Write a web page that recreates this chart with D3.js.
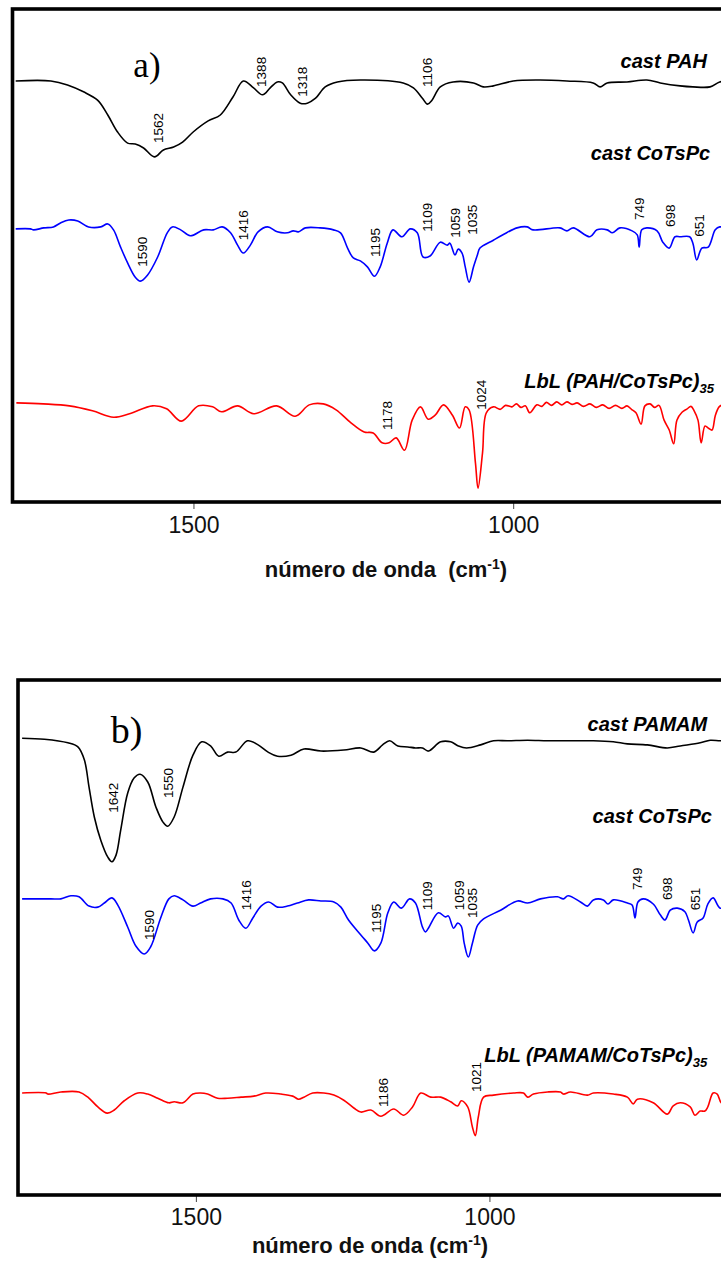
<!DOCTYPE html>
<html>
<head>
<meta charset="utf-8">
<script src="https://cdn.jsdelivr.net/npm/d3@7"></script>
<style>
  html, body { margin: 0; padding: 0; background: #fff; }
  svg { display: block; }
</style>
</head>
<body>
<div id="chart"></div>
<script>
// ---------------- DATA (wavenumber in cm-1, offset transmittance in arbitrary units 0-100) ----------------
const xTicks = [1500, 1000];
const axisTitle = "número de onda";

// Panel a)
const aCastPAH = [[1778,85.4],[1723,85.4],[1697,84.6],[1672,83.2],[1650,81.5],[1634,78.5],[1619,75.1],[1603,72.8],[1591,72.6],[1578,71.8],[1561,70.0],[1547,71.4],[1531,72.0],[1517,73.0],[1500,75.1],[1477,77.3],[1458,78.5],[1438,82.2],[1422,85.4],[1406,84.0],[1392,82.6],[1380,84.0],[1369,85.2],[1361,85.0],[1348,82.6],[1333,80.9],[1322,80.9],[1309,81.9],[1294,84.2],[1275,85.2],[1239,85.6],[1172,85.0],[1156,84.0],[1142,81.9],[1134,80.7],[1127,81.5],[1114,84.2],[1094,85.2],[1062,85.0],[1047,84.2],[1031,84.4],[1000,85.4],[958,85.6],[916,85.4],[875,85.0],[864,84.2],[853,85.0],[822,85.2],[791,85.6],[770,85.0],[739,84.4],[719,84.2],[692,84.2],[677,85.2],[653,85.6]];

const aCastCoTsPc = [[1778,55.4],[1755,55.4],[1750,55.2],[1734,55.6],[1719,55.8],[1708,56.6],[1695,57.2],[1681,57.0],[1664,55.8],[1645,55.8],[1634,56.4],[1625,55.2],[1614,51.7],[1603,48.5],[1591,45.6],[1583,44.8],[1572,46.0],[1556,49.7],[1541,54.6],[1533,55.8],[1520,55.2],[1505,54.0],[1484,55.2],[1469,55.2],[1455,55.8],[1442,54.6],[1431,52.1],[1422,50.5],[1411,52.1],[1399,54.8],[1384,55.8],[1369,54.8],[1353,54.6],[1344,55.0],[1336,54.8],[1325,55.6],[1302,55.6],[1281,55.2],[1270,54.6],[1259,51.5],[1250,49.5],[1239,48.9],[1228,47.7],[1217,45.8],[1208,47.7],[1197,52.5],[1188,55.2],[1174,53.8],[1161,55.4],[1150,54.6],[1141,49.7],[1130,49.9],[1114,52.7],[1103,52.1],[1099,52.5],[1091,50.1],[1086,51.3],[1080,50.5],[1075,47.7],[1069,44.6],[1062,47.7],[1056,50.1],[1052,51.5],[1031,53.1],[1016,54.2],[994,55.6],[978,55.8],[969,55.2],[927,55.6],[916,55.0],[906,55.6],[880,53.8],[869,55.2],[853,55.2],[845,54.6],[833,55.6],[814,55.0],[806,54.2],[803,51.7],[799,55.2],[791,55.6],[775,55.0],[766,52.7],[756,51.5],[747,53.8],[739,53.8],[724,53.8],[719,52.5],[713,49.1],[705,51.5],[695,51.7],[684,55.2],[677,55.8],[661,55.2]];

const aLbL = [[1777,20.1],[1735,19.9],[1694,19.5],[1658,18.5],[1625,17.2],[1600,17.9],[1564,19.5],[1542,18.9],[1519,16.4],[1492,19.5],[1470,19.3],[1456,18.3],[1431,19.5],[1406,17.9],[1370,19.5],[1341,17.4],[1319,19.7],[1297,19.9],[1277,18.7],[1255,16.2],[1233,14.2],[1219,14.0],[1205,12.0],[1194,12.0],[1183,13.0],[1170,10.5],[1158,16.6],[1145,19.3],[1133,16.8],[1122,17.6],[1109,19.7],[1095,17.6],[1084,15.0],[1075,19.3],[1069,18.7],[1059,7.9],[1055,2.8],[1048,9.9],[1042,18.1],[1031,19.3],[1020,18.8],[1012,19.6],[1002,19.3],[995,19.9],[988,19.2],[981,19.5],[974,18.1],[963,19.7],[955,19.4],[948,20.2],[940,19.6],[932,20.3],[924,19.7],[916,20.3],[908,19.8],[900,20.1],[890,19.4],[880,19.9],[870,19.2],[860,19.7],[850,19.0],[840,19.6],[830,19.0],[822,19.5],[815,18.8],[808,18.1],[800,15.8],[794,19.5],[786,19.9],[779,19.2],[772,19.6],[764,16.6],[756,14.6],[749,11.8],[744,16.6],[736,18.2],[728,18.9],[722,19.4],[717,18.5],[711,16.6],[706,12.0],[700,15.4],[694,14.9],[689,14.6],[684,17.5],[678,19.3],[672,19.7],[653,19.5]];

// Panel b)
const bCastPAMAM = [[1796,88.7],[1758,88.5],[1718,87.8],[1701,87.0],[1690,84.5],[1682,79.2],[1673,73.4],[1662,68.9],[1650,65.6],[1643,64.7],[1636,66.0],[1628,70.9],[1616,78.1],[1605,81.0],[1595,81.7],[1582,80.2],[1568,75.3],[1556,72.4],[1548,71.6],[1537,73.4],[1522,79.2],[1505,85.4],[1490,88.0],[1475,87.2],[1461,85.2],[1446,86.0],[1432,86.0],[1412,88.2],[1394,87.4],[1377,86.0],[1361,85.2],[1338,85.4],[1316,86.6],[1287,86.2],[1248,86.4],[1219,86.8],[1197,86.0],[1182,87.4],[1170,88.2],[1156,87.2],[1139,87.0],[1126,86.8],[1114,86.8],[1104,86.2],[1083,88.0],[1066,88.0],[1053,87.2],[1039,86.8],[1015,87.4],[993,88.2],[969,88.2],[935,88.3],[901,88.2],[867,88.2],[823,88.2],[789,88.0],[765,87.6],[731,87.4],[697,86.8],[675,87.2],[641,87.8],[624,88.3],[607,88.2],[582,88.2]];

const bCastCoTsPc = [[1796,57.5],[1747,57.5],[1730,57.5],[1713,58.1],[1699,57.9],[1682,56.1],[1667,55.9],[1656,56.7],[1643,57.7],[1633,56.3],[1616,52.0],[1602,48.3],[1588,46.8],[1577,48.2],[1560,53.8],[1546,57.5],[1537,58.1],[1522,57.3],[1505,56.1],[1492,56.7],[1475,57.5],[1454,57.5],[1440,56.7],[1427,53.4],[1415,51.8],[1403,53.8],[1389,56.1],[1376,56.9],[1361,55.9],[1344,56.1],[1327,56.7],[1308,57.3],[1287,57.1],[1265,56.9],[1253,55.9],[1240,53.4],[1219,50.5],[1207,48.9],[1196,47.4],[1185,48.9],[1173,54.8],[1163,56.9],[1150,55.7],[1136,57.5],[1126,56.7],[1114,52.0],[1109,51.1],[1104,51.8],[1087,54.8],[1075,54.0],[1070,54.2],[1061,51.8],[1054,52.8],[1048,52.2],[1043,48.9],[1036,46.2],[1029,48.9],[1020,52.4],[1010,53.6],[981,55.3],[952,57.1],[935,56.7],[913,57.5],[884,57.9],[874,57.5],[866,58.1],[845,56.9],[833,56.1],[823,57.3],[806,57.3],[798,56.5],[789,57.3],[765,56.7],[757,56.3],[752,53.8],[747,56.9],[738,57.5],[721,56.5],[709,54.4],[701,53.4],[692,55.3],[680,55.7],[667,55.0],[661,53.4],[653,50.9],[646,53.0],[636,53.8],[628,56.5],[619,57.7],[607,55.7],[590,56.3]];

const bLbL = [[1796,19.8],[1755,19.8],[1752,19.6],[1730,20.0],[1699,20.0],[1684,19.0],[1667,17.1],[1651,15.9],[1639,16.5],[1622,18.3],[1599,19.8],[1582,19.6],[1565,18.8],[1546,17.9],[1537,18.1],[1522,17.9],[1505,19.6],[1492,19.8],[1480,19.6],[1463,18.8],[1446,18.8],[1423,19.0],[1401,19.2],[1381,19.8],[1355,19.6],[1335,19.2],[1325,18.6],[1316,19.0],[1301,19.8],[1282,19.8],[1265,19.4],[1248,18.4],[1231,16.9],[1219,16.1],[1202,16.5],[1185,15.3],[1163,16.7],[1146,15.5],[1131,17.1],[1117,19.8],[1100,19.0],[1083,19.0],[1066,18.1],[1054,17.3],[1048,18.3],[1037,17.1],[1029,13.2],[1024,11.5],[1019,15.1],[1010,19.0],[993,19.4],[959,19.8],[942,19.8],[935,19.0],[925,19.6],[901,20.0],[879,20.0],[874,19.6],[862,20.0],[833,19.4],[823,19.8],[789,19.6],[765,19.0],[755,17.7],[748,18.6],[721,17.9],[697,15.7],[687,17.3],[675,17.9],[658,17.1],[650,15.5],[641,16.3],[633,16.3],[628,17.1],[619,19.8],[612,19.6],[605,17.9],[590,17.5]];

// Peak annotations: [label, wavenumber, value] (anchor = start of the vertical text)
const aPeaks = [["1562",1548,72.8],["1388",1386,84.2],["1318",1323,82.2],["1106",1127,84.2],
  ["1590",1572,47.7],["1416",1414,53.1],["1195",1208,49.7],["1109",1127,54.8],["1059",1083,53.6],["1035",1056,54.2],
  ["749",795,57.2],["698",747,55.8],["651",702,53.8],["1178",1189,14.6],["1024",1042,18.7]];
const bPeaks = [["1642",1633,74.2],["1550",1539,77.1],["1590",1571,49.5],["1416",1406,55.3],["1195",1185,50.9],
  ["1109",1097,55.3],["1059",1044,55.3],["1035",1022,53.8],["749",740,59.2],["698",689,57.3],["651",641,55.3],
  ["1186",1173,17.1],["1021",1015,20.0]];

// Series names: [name, subscript, wavenumber of right end, value of baseline]
const aNames = [["cast PAH","",697,88.0],["cast CoTsPc","",692,69.4],["LbL (PAH/CoTsPc)","35",686,23.1]];
const bNames = [["cast PAMAM","",629,90.1],["cast CoTsPc","",621,72.2],["LbL (PAMAM/CoTsPc)","35",629,25.8]];
const panelLetters = [["a)",1594,86.2],["b)",1645,87.8]];

const seriesColors = ["#000000", "#0000ff", "#ff0000"];

// ---------------- LAYOUT ----------------
const W = 721, H = 1261;
const panels = [
  { xDomain:[1783,650], left:12.5, right:737, top:9, bottom:502,
    series:[aCastPAH,aCastCoTsPc,aLbL], peaks:aPeaks, names:aNames, letter:panelLetters[0], letterSize:35,
    tickY:31, titleX:386, titleY:577, titleGap:"\u00a0\u00a0" },
  { xDomain:[1803,580], left:18, right:736, top:680, bottom:1195,
    series:[bCastPAMAM,bCastCoTsPc,bLbL], peaks:bPeaks, names:bNames, letter:panelLetters[1], letterSize:38,
    tickY:30, titleX:370, titleY:1253, titleGap:" " }
];

const svg = d3.select("#chart").append("svg").attr("width", W).attr("height", H)
  .style("font-family", "'Liberation Sans', Arial, Helvetica, sans-serif");
svg.append("rect").attr("width", W).attr("height", H).attr("fill", "#fff");

panels.forEach((p, i) => {
  const x = d3.scaleLinear().domain(p.xDomain).range([p.left, p.right]);
  const y = d3.scaleLinear().domain([0, 100]).range([p.bottom, p.top]);
  const g = svg.append("g");

  const clipId = "clip" + i;
  g.append("clipPath").attr("id", clipId).append("rect")
    .attr("x", p.left).attr("y", p.top).attr("width", p.right - p.left).attr("height", p.bottom - p.top);

  const line = d3.line().x(d => x(d[0])).y(d => y(d[1])).curve(d3.curveCatmullRom.alpha(0.5));
  p.series.forEach((s, k) => {
    g.append("path").datum(s).attr("d", line).attr("clip-path", `url(#${clipId})`)
      .attr("fill", "none").attr("stroke", seriesColors[k]).attr("stroke-width", 1.6)
      .attr("stroke-linejoin", "round");
  });

  // axis
  const axis = d3.axisBottom(x).tickValues(xTicks).tickSize(7).tickFormat(d3.format("d"));
  const ag = g.append("g").attr("transform", `translate(0,${p.bottom})`).call(axis);
  ag.select(".domain").remove();
  ag.selectAll(".tick line").attr("stroke", "#444").attr("stroke-width", 1);
  ag.selectAll(".tick text").attr("y", p.tickY).attr("dy", 0)
    .attr("font-size", 23).attr("fill", "#111")
    .style("font-family", "'Liberation Sans', Arial, sans-serif");

  // frame
  g.append("rect").attr("x", p.left).attr("y", p.top)
    .attr("width", p.right - p.left).attr("height", p.bottom - p.top)
    .attr("fill", "none").attr("stroke", "#000").attr("stroke-width", 3.6);

  // axis title
  const t = g.append("text").attr("x", p.titleX).attr("y", p.titleY).attr("text-anchor", "middle")
    .attr("font-size", 22).attr("font-weight", "bold").attr("fill", "#111");
  t.append("tspan").text(axisTitle + p.titleGap + "(cm");
  t.append("tspan").attr("font-size", 14).attr("dy", -8).text("-1");
  t.append("tspan").attr("dy", 8).text(")");

  // peak labels
  p.peaks.forEach(pk => {
    g.append("text").attr("transform", `translate(${x(pk[1])},${y(pk[2])}) rotate(-90)`)
      .attr("font-size", 13.5).attr("fill", "#000").text(pk[0]);
  });

  // series names
  p.names.forEach(n => {
    const tx = g.append("text").attr("x", x(n[2])).attr("y", y(n[3])).attr("text-anchor", "end")
      .attr("font-size", 20).attr("font-weight", "bold").attr("font-style", "italic").attr("fill", "#000");
    tx.append("tspan").text(n[0]);
    if (n[1]) tx.append("tspan").attr("font-size", 13).attr("dy", 5).text(n[1]);
  });

  // panel letter
  g.append("text").attr("x", x(p.letter[1])).attr("y", y(p.letter[2]))
    .attr("font-size", p.letterSize).attr("fill", "#000")
    .style("font-family", "'Liberation Serif', 'Times New Roman', serif").text(p.letter[0]);
});
</script>
</body>
</html>
